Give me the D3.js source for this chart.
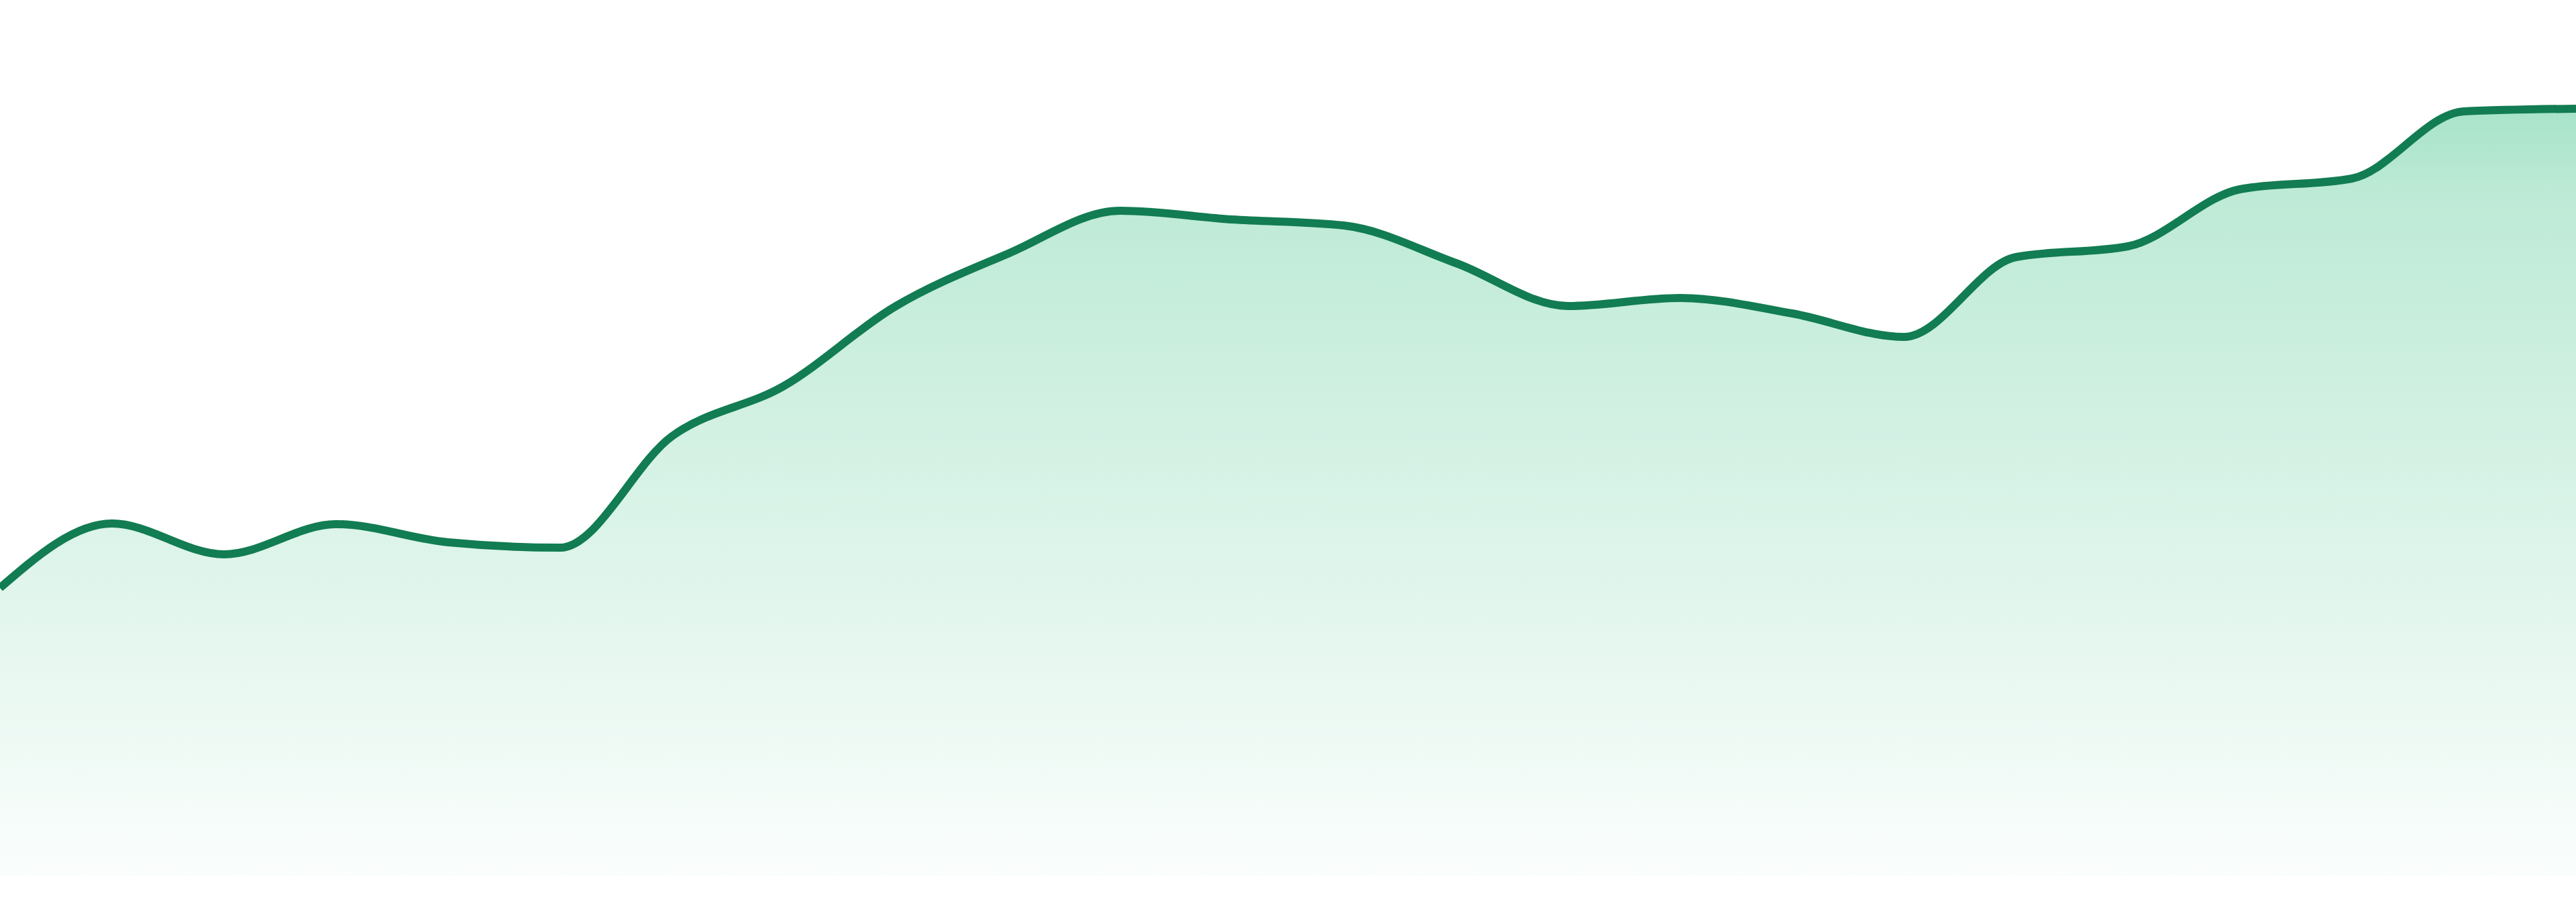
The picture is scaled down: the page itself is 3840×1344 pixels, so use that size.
<!DOCTYPE html>
<html>
<head>
<meta charset="utf-8">
<script src="https://cdn.jsdelivr.net/npm/d3@7"></script>
<style>
  html, body { margin: 0; padding: 0; background: #fff; overflow: hidden; }
  svg { display: block; }
</style>
</head>
<body>
<svg id="chart"></svg>
<script>
// 24 evenly spaced samples
const periods = d3.range(24);
const values = [
  44.4, 54.0, 49.4, 53.9, 51.2, 50.4, 67.0, 74.5, 86.4, 94.2, 100.6, 99.3,
  98.4, 92.8, 86.4, 87.6, 85.3, 81.8, 93.7, 95.3, 103.8, 105.4, 115.4, 115.8
];
const yDomain = [1.5, 132];

const width = 3840, height = 1344;
const margin = { top: 0, right: 0, bottom: 39, left: 0 };
const innerWidth = width - margin.left - margin.right;
const innerHeight = height - margin.top - margin.bottom;

const svg = d3.select("#chart").attr("width", width).attr("height", height);
const g = svg.append("g").attr("transform", `translate(${margin.left},${margin.top})`);

const data = periods.map((p, i) => ({ p, v: values[i] }));

const x = d3.scaleLinear().domain(d3.extent(periods)).range([0, innerWidth]);
const y = d3.scaleLinear().domain(yDomain).range([innerHeight, 0]);

// Fill gradient: strongest right under the peak, fading out to the baseline
const gradient = svg.append("defs")
  .append("linearGradient")
  .attr("id", "area-gradient")
  .attr("gradientUnits", "userSpaceOnUse")
  .attr("x1", 0).attr("x2", 0)
  .attr("y1", y(d3.max(values)))
  .attr("y2", innerHeight);

gradient.append("stop").attr("offset", "0%").attr("stop-color", "#23b976").attr("stop-opacity", 0.4);
gradient.append("stop").attr("offset", "11%").attr("stop-color", "#23b976").attr("stop-opacity", 0.3);
gradient.append("stop").attr("offset", "100%").attr("stop-color", "#23b976").attr("stop-opacity", 0.02);

g.append("path")
  .datum(data)
  .attr("fill", "url(#area-gradient)")
  .attr("stroke", "none")
  .attr("d", d3.area()
    .curve(d3.curveMonotoneX)
    .x(d => x(d.p))
    .y0(innerHeight)
    .y1(d => y(d.v)));

g.append("path")
  .datum(data)
  .attr("fill", "none")
  .attr("stroke", "#127c52")
  .attr("stroke-width", 12)
  .attr("stroke-linejoin", "round")
  .attr("d", d3.line()
    .curve(d3.curveMonotoneX)
    .x(d => x(d.p))
    .y(d => y(d.v)));
</script>
</body>
</html>
